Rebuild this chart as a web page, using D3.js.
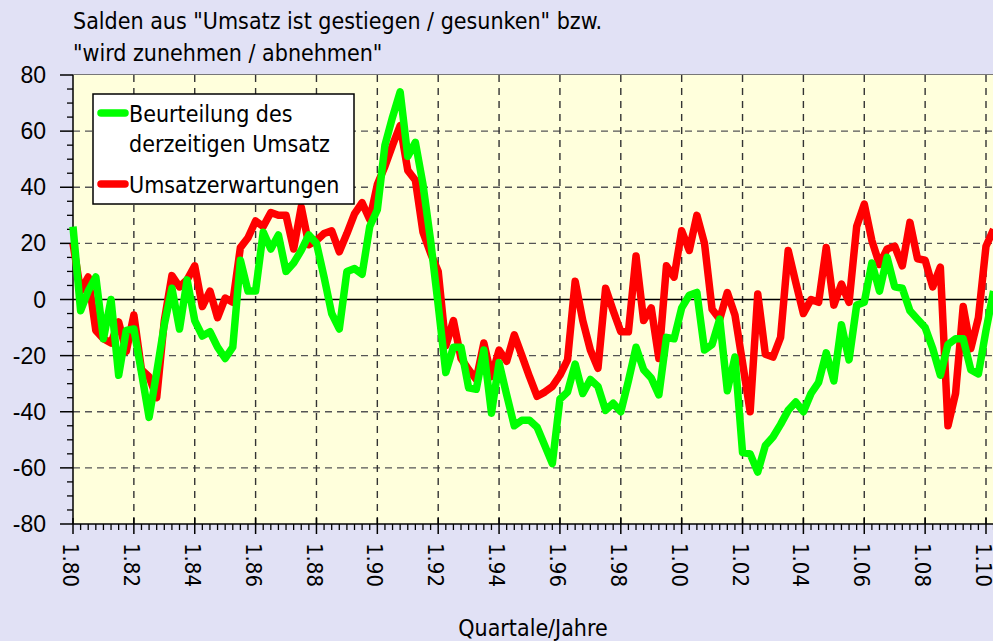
<!DOCTYPE html>
<html>
<head>
<meta charset="utf-8">
<script src="https://cdn.jsdelivr.net/npm/d3@7"></script>
<style>
  body { margin: 0; background: #e1e1f5; }
  svg { display: block; }
</style>
</head>
<body>
<div class="container"></div>
<script>
// quarterly balances, first value = 1980 Q1
const startYear = 1980;
const beurteilung = [
  26, -4, 3, 8, -14, 0, -27, -11, -10.5, -26, -42, -26, -9, 4, -10.5, 7, -7.5, -13, -11.5, -17,
  -21, -17, 14, 3, 3, 24, 18, 23, 10, 13, 17.5, 23, 20, 8, -5, -10.5, 10, 11, 9, 26,
  32, 55, 65, 74, 51, 56, 41, 21, -2, -26, -17, -17, -31.5, -32, -18, -40.5, -22.5, -34, -45, -43,
  -43, -45.5, -52, -58.5, -35.5, -33, -23, -33.5, -28.5, -31, -39.5, -37, -40, -29, -17, -25, -28, -34, -13.5, -14,
  -3, 1.5, 2.5, -18, -16, -7, -32.5, -20.5, -54.5, -55, -61.5, -52, -49, -44.5, -39.5, -36.5, -40, -33.5, -29.5, -19,
  -29, -9, -21.5, -2, -1, 13, 3, 15, 4.5, 4, -4, -7, -10, -17.5, -27, -16, -14, -14, -25, -26.5,
  -11, 3
];
const erwartungen = [
  20, 3, 8, -11, -14, -15.5, -8, -18.5, -5.5, -25, -27.5, -35, -7.5, 8.5, 4.5, 7, 12, -2.5, 3, -6.5,
  0.5, -1, 18.5, 22, 28, 26, 31, 30, 30, 18, 33, 19.5, 21, 23.5, 24.5, 17, 23.5, 30.5, 34.5, 28.5,
  41, 47.5, 55, 62, 46, 42.5, 24, 16.5, 10, -16.5, -7.5, -21, -25, -28.5, -15.5, -27.5, -18, -22, -12.6, -20,
  -27.5, -34.5, -33, -31, -27, -21.5, 6.5, -7.5, -18, -24.5, 4, -4, -11.5, -11.5, 15.5, -7.5, -3, -21, 12, 8,
  24.5, 17.5, 30, 20, -3.5, -7, 2.5, -5.5, -22.5, -40, 2, -19.5, -20.5, -13.5, 17.5, 6, -5, 0, -1, 18.5,
  -2, 5.5, -1, 26, 34, 21, 12.5, 18, 19, 12, 27.5, 14.5, 14, 4.5, 11.5, -45, -33.5, -2.5, -17.5, -6.5,
  19, 25
];
const yTicks = [-80, -60, -40, -20, 0, 20, 40, 60, 80];
const xTickYears = [1980, 1982, 1984, 1986, 1988, 1990, 1992, 1994, 1996, 1998, 2000, 2002, 2004, 2006, 2008, 2010];
const xTickLabels = ["1.80", "1.82", "1.84", "1.86", "1.88", "1.90", "1.92", "1.94", "1.96", "1.98",
  "1.00", "1.02", "1.04", "1.06", "1.08", "1.10"];
const titleLines = ['Salden aus "Umsatz ist gestiegen / gesunken" bzw.', '"wird zunehmen / abnehmen"'];

const width = 993, height = 641,
  plot = {left: 73, top: 75, right: 1000, bottom: 524},
  font = "'DejaVu Sans Condensed', 'DejaVu Sans', sans-serif";

const svg = d3.select('.container')
  .append('svg')
  .attr('width', width)
  .attr('height', height);

svg.append('rect').attr('width', width).attr('height', height).attr('fill', '#e1e1f5');

const x = d3.scaleLinear().domain([1980, 2010]).range([73, 986]);
const y = d3.scaleLinear().domain([-80, 80]).range([plot.bottom, plot.top]);

svg.append('rect')
  .attr('x', plot.left).attr('y', plot.top)
  .attr('width', plot.right - plot.left).attr('height', plot.bottom - plot.top)
  .attr('fill', '#ffffdc');

// top border
svg.append('line')
  .attr('x1', plot.left).attr('x2', plot.right)
  .attr('y1', plot.top - 0.5).attr('y2', plot.top - 0.5)
  .attr('stroke', '#777').attr('stroke-width', 1.2);

// grid
svg.append('g').selectAll('line')
  .data(yTicks.filter(d => d !== 0 && d !== -80 && d !== 80))
  .enter().append('line')
  .attr('x1', plot.left).attr('x2', plot.right)
  .attr('y1', d => y(d)).attr('y2', d => y(d))
  .attr('stroke', '#555').attr('stroke-width', 1.4).attr('stroke-dasharray', '7,5');

svg.append('g').selectAll('line')
  .data(xTickYears.slice(1))
  .enter().append('line')
  .attr('x1', d => x(d)).attr('x2', d => x(d))
  .attr('y1', plot.top).attr('y2', plot.bottom)
  .attr('stroke', '#333').attr('stroke-width', 1.4).attr('stroke-dasharray', '7,6');

// zero line
svg.append('line')
  .attr('x1', plot.left).attr('x2', plot.right)
  .attr('y1', y(0)).attr('y2', y(0))
  .attr('stroke', '#000').attr('stroke-width', 1.5);

// y axis
const yAxis = svg.append('g').attr('transform', `translate(${plot.left},0)`);
yAxis.append('line').attr('y1', plot.top).attr('y2', plot.bottom).attr('stroke', '#000').attr('stroke-width', 1.5);
yAxis.selectAll('.minor')
  .data(d3.range(-80, 81, 5).filter(d => d % 20 !== 0))
  .enter().append('line')
  .attr('x1', -6).attr('x2', 0)
  .attr('y1', d => y(d)).attr('y2', d => y(d))
  .attr('stroke', '#000').attr('stroke-width', 1.3);
yAxis.selectAll('.major')
  .data(yTicks)
  .enter().append('line')
  .attr('x1', -13).attr('x2', 0)
  .attr('y1', d => y(d)).attr('y2', d => y(d))
  .attr('stroke', '#000').attr('stroke-width', 1.5);
yAxis.selectAll('text')
  .data(yTicks)
  .enter().append('text')
  .attr('x', -27).attr('y', d => y(d))
  .attr('dy', '0.35em')
  .attr('text-anchor', 'end')
  .attr('font-family', "'Liberation Sans', Arial, sans-serif")
  .attr('font-size', 23)
  .text(d => d);

// x axis
const xAxis = svg.append('g').attr('transform', `translate(0,${plot.bottom})`);
xAxis.append('line').attr('x1', plot.left).attr('x2', plot.right).attr('stroke', '#000').attr('stroke-width', 1.5);
xAxis.selectAll('.minor')
  .data(d3.range(0, 124).filter(q => q % 8 !== 0))
  .enter().append('line')
  .attr('x1', q => x(startYear + q / 4)).attr('x2', q => x(startYear + q / 4))
  .attr('y1', 0).attr('y2', 6)
  .attr('stroke', '#000').attr('stroke-width', 1.3);
xAxis.selectAll('.major')
  .data(xTickYears)
  .enter().append('line')
  .attr('x1', d => x(d)).attr('x2', d => x(d))
  .attr('y1', -6).attr('y2', 10)
  .attr('stroke', '#000').attr('stroke-width', 1.5);
xAxis.selectAll('text')
  .data(xTickYears)
  .enter().append('text')
  .attr('transform', d => `translate(${x(d)},19) rotate(90)`)
  .attr('dy', '0.45em')
  .attr('font-family', font)
  .attr('font-size', 22)
  .text((d, i) => xTickLabels[i]);

// series
const line = d3.line()
  .x((d, i) => x(startYear + i / 4))
  .y(d => y(d));

svg.append('path')
  .datum(erwartungen)
  .attr('d', line)
  .attr('fill', 'none').attr('stroke', '#ff0000')
  .attr('stroke-width', 7.5).attr('stroke-linejoin', 'round');

svg.append('path')
  .datum(beurteilung)
  .attr('d', line)
  .attr('fill', 'none').attr('stroke', '#00ff00')
  .attr('stroke-width', 7.5).attr('stroke-linejoin', 'round');

// legend
const legend = svg.append('g');
legend.append('rect')
  .attr('x', 93).attr('y', 94).attr('width', 261).attr('height', 110)
  .attr('fill', '#fff').attr('stroke', '#000').attr('stroke-width', 1.5);
[
  {color: '#00ff00', y: 113, lines: ['Beurteilung des', 'derzeitigen Umsatz']},
  {color: '#ff0000', y: 184, lines: ['Umsatzerwartungen']}
].forEach(item => {
  legend.append('line')
    .attr('x1', 101).attr('x2', 125)
    .attr('y1', item.y).attr('y2', item.y)
    .attr('stroke', item.color).attr('stroke-width', 7.5).attr('stroke-linecap', 'round');
  item.lines.forEach((t, k) => {
    legend.append('text')
      .attr('x', 129).attr('y', item.y + 9 + k * 30)
      .attr('font-family', font).attr('font-size', 23)
      .text(t);
  });
});

// titles
titleLines.forEach((t, k) => {
  svg.append('text')
    .attr('x', 73).attr('y', 29 + k * 32)
    .attr('font-family', font).attr('font-size', 23)
    .text(t);
});

svg.append('text')
  .attr('x', 533).attr('y', 636)
  .attr('text-anchor', 'middle')
  .attr('font-family', font).attr('font-size', 23)
  .text('Quartale/Jahre');
</script>
</body>
</html>
